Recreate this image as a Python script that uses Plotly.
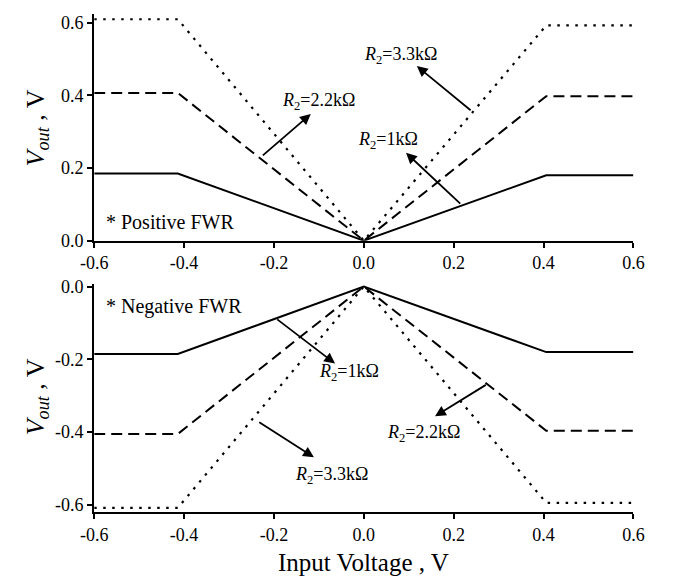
import plotly.graph_objects as go

# ---- data ----
x_in = [-0.6, -0.414, 0.0, 0.406, 0.6]
pos_r1k = [0.185, 0.185, 0.0, 0.180, 0.180]
pos_r22k = [0.407, 0.407, 0.0, 0.398, 0.398]
pos_r33k = [0.610, 0.610, 0.0, 0.593, 0.593]
neg_r1k = [-0.185, -0.185, 0.0, -0.180, -0.180]
neg_r22k = [-0.405, -0.405, 0.0, -0.396, -0.396]
neg_r33k = [-0.608, -0.608, 0.0, -0.594, -0.594]

x_ticks = [-0.6, -0.4, -0.2, 0.0, 0.2, 0.4, 0.6]
x_ticktext = ["-0.6", "-0.4", "-0.2", "0.0", "0.2", "0.4", "0.6"]
y_top_ticks = [0.0, 0.2, 0.4, 0.6]
y_top_text = ["0.0", "0.2", "0.4", "0.6"]
y_bot_ticks = [0.0, -0.2, -0.4, -0.6]
y_bot_text = ["0.0", "-0.2", "-0.4", "-0.6"]

FONT = "Liberation Serif"
W, H = 673, 580

styles = {
    "solid": dict(color="black", width=2, dash="solid"),
    "dash": dict(color="black", width=2, dash="11px,6px"),
    "dot": dict(color="black", width=2.2, dash="2.5px,6.5px"),
}

fig = go.Figure()
for ys, st in [(pos_r1k, "solid"), (pos_r22k, "dash"), (pos_r33k, "dot")]:
    fig.add_trace(go.Scatter(x=x_in, y=ys, mode="lines", line=styles[st],
                             xaxis="x", yaxis="y", showlegend=False, hoverinfo="skip"))
for ys, st in [(neg_r1k, "solid"), (neg_r22k, "dash"), (neg_r33k, "dot")]:
    fig.add_trace(go.Scatter(x=x_in, y=ys, mode="lines", line=styles[st],
                             xaxis="x2", yaxis="y2", showlegend=False, hoverinfo="skip"))

xdom = [83.3 / W, 643.3 / W]
axis_common = dict(showline=True, linecolor="black", linewidth=2, ticks="outside",
                   ticklen=5, tickwidth=2, tickcolor="black", showgrid=False,
                   zeroline=False, tickfont=dict(family=FONT, size=18, color="black"))

fig.update_layout(
    width=W, height=H,
    margin=dict(l=0, r=0, t=0, b=0),
    paper_bgcolor="white", plot_bgcolor="white",
    font=dict(family=FONT, color="black"),
    xaxis=dict(domain=xdom, range=[-0.6, 0.6], anchor="y", tickvals=x_ticks,
               ticktext=x_ticktext, **axis_common),
    yaxis=dict(domain=[1 - 240.7 / H, 1 - 7 / H], range=[0, 0.625], anchor="x",
               tickvals=y_top_ticks, ticktext=y_top_text, **axis_common),
    xaxis2=dict(domain=xdom, range=[-0.6, 0.6], anchor="y2", tickvals=x_ticks,
                ticktext=x_ticktext, **axis_common),
    yaxis2=dict(domain=[1 - 520.7 / H, 1 - 285 / H], range=[-0.6205, 0.008], anchor="x2",
                tickvals=y_bot_ticks, ticktext=y_bot_text, **axis_common),
)

ann = []

def label(text, x, y, xr, yr, size=18):
    ann.append(dict(text=text, x=x, y=y, xref=xr, yref=yr, showarrow=False,
                    xanchor="center", yanchor="middle",
                    font=dict(family=FONT, size=size, color="black")))

def arrow(hx, hy, tx, ty, xr, yr):
    ann.append(dict(text="", x=hx, y=hy, ax=tx, ay=ty, xref=xr, yref=yr,
                    axref=xr, ayref=yr, showarrow=True, arrowhead=2,
                    arrowsize=1.2, arrowwidth=1.8, arrowcolor="black"))

# top panel
label("<i>R</i><sub>2</sub>=2.2kΩ", -0.101, 0.384, "x", "y")
label("<i>R</i><sub>2</sub>=3.3kΩ", 0.081, 0.509, "x", "y")
label("<i>R</i><sub>2</sub>=1kΩ", 0.053, 0.277, "x", "y")
label("* Positive FWR", -0.431, 0.05, "x", "y", size=20)
arrow(-0.118, 0.349, -0.228, 0.2315, "x", "y")
arrow(0.118, 0.481, 0.241, 0.356, "x", "y")
arrow(0.094, 0.242, 0.218, 0.098, "x", "y")

# bottom panel
label("* Negative FWR", -0.423, -0.056, "x2", "y2", size=20)
label("<i>R</i><sub>2</sub>=1kΩ", -0.034, -0.235, "x2", "y2")
label("<i>R</i><sub>2</sub>=3.3kΩ", -0.071, -0.518, "x2", "y2")
label("<i>R</i><sub>2</sub>=2.2kΩ", 0.132, -0.405, "x2", "y2")
arrow(-0.064, -0.2115, -0.196, -0.087, "x2", "y2")
arrow(-0.111, -0.469, -0.236, -0.370, "x2", "y2")
arrow(0.1585, -0.3565, 0.275, -0.2675, "x2", "y2")

# axis titles
for yc in [125, 402]:
    ann.append(dict(text="<i>V<sub>out</sub></i> , V", x=24 / W, y=1 - yc / H,
                    xref="paper", yref="paper", showarrow=False, textangle=-90,
                    xanchor="center", yanchor="middle",
                    font=dict(family=FONT, size=26, color="black")))
ann.append(dict(text="Input Voltage , V", x=363 / W, y=0, xref="paper",
                yref="paper", showarrow=False, xanchor="center", yanchor="bottom",
                yshift=-8, font=dict(family=FONT, size=25, color="black")))

fig.update_layout(annotations=ann)
fig.write_html("out.html")
